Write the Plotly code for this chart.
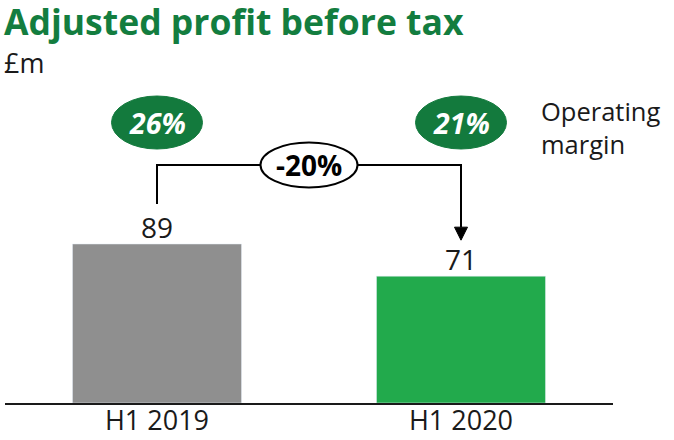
import plotly.graph_objects as go

# ---- data ----
categories = ["H1 2019", "H1 2020"]
profit = [89, 71]
op_margin = ["26%", "21%"]
change_label = "-20%"
bar_colors = ["#8f8f8f", "#22aa4c"]

# ---- geometry ----
W, H = 674, 440
ML, MR, MT, MB = 5, 61, 10, 37
PW, PH = W - ML - MR, H - MT - MB
YMAX = 220.0
PPU_Y = PH / YMAX          # pixels per value unit
PPU_X = PW / 2.0           # pixels per category unit (range -0.5..1.5)

def up(px):                # vertical pixel offset -> value units
    return px / PPU_Y

def ux(px):
    return px / PPU_X

def paper_x(px):
    return (px - ML) / PW

def paper_y(py):
    return (H - MB - py) / PH

FONT = "Open Sans"
DARK = "#1a1a1a"
TITLE_GREEN = "#137d3f"
ELL_GREEN = "#137a3d"

fig = go.Figure()
fig.add_trace(go.Bar(
    x=categories, y=profit, marker_color=bar_colors, width=0.556,
    hoverinfo="skip",
))

# value labels
for c, v in zip(categories, profit):
    fig.add_annotation(x=c, y=v + up(17), xref="x", yref="y", text=str(v),
                       showarrow=False, yanchor="middle",
                       font=dict(family=FONT, size=28, color=DARK))

# connector
y_h = profit[0] + up(79)
y_l = profit[0] + up(40)
y_tip = profit[1] + up(36)
head_h = up(13)
head_w = ux(6.5)
fig.add_shape(type="path", xref="x", yref="y",
              path=f"M 0,{y_l} L 0,{y_h} L 1,{y_h} L 1,{y_tip + head_h}",
              line=dict(color="black", width=2))
fig.add_shape(type="path", xref="x", yref="y",
              path=f"M {1 - head_w},{y_tip + head_h} L {1 + head_w},{y_tip + head_h} L 1,{y_tip} Z",
              fillcolor="black", line=dict(color="black", width=1))

# change ellipse
cx = 0.5
ew, eh = ux(97) / 2, up(45) / 2
fig.add_shape(type="circle", xref="x", yref="y",
              x0=cx - ew, x1=cx + ew, y0=y_h - eh, y1=y_h + eh,
              fillcolor="white", line=dict(color="black", width=2))
fig.add_annotation(x=cx, y=y_h, xref="x", yref="y", text=f"<b>{change_label}</b>",
                   showarrow=False, font=dict(family=FONT, size=28, color="black"))

# margin ellipses
y_m = profit[0] + up(121.5)
mw, mh = ux(91) / 2, up(53) / 2
for i, m in enumerate(op_margin):
    fig.add_shape(type="circle", xref="x", yref="y",
                  x0=i - mw, x1=i + mw, y0=y_m - mh, y1=y_m + mh,
                  fillcolor=ELL_GREEN, line=dict(color=ELL_GREEN, width=1))
    fig.add_annotation(x=i, y=y_m, xref="x", yref="y", text=f"<b><i>{m}</i></b>",
                       showarrow=False, font=dict(family=FONT, size=28.5, color="white"))

# texts
fig.add_annotation(x=paper_x(2), y=paper_y(21.5), xref="paper", yref="paper",
                   xanchor="left", yanchor="middle", showarrow=False,
                   text="<b>Adjusted profit before tax</b>",
                   font=dict(family=FONT, size=35.5, color=TITLE_GREEN))
fig.add_annotation(x=paper_x(2), y=paper_y(62.5), xref="paper", yref="paper",
                   xanchor="left", yanchor="middle", showarrow=False,
                   text="£m", font=dict(family=FONT, size=27, color=DARK))
fig.add_annotation(x=paper_x(539), y=paper_y(127), xref="paper", yref="paper",
                   xanchor="left", yanchor="middle", align="left", showarrow=False,
                   text="Operating<br>margin", font=dict(family=FONT, size=25.5, color=DARK))

fig.update_layout(
    width=W, height=H, margin=dict(l=ML, r=MR, t=MT, b=MB, autoexpand=False),
    paper_bgcolor="white", plot_bgcolor="white", showlegend=False,
    xaxis=dict(range=[-0.5, 1.5], showline=True, linecolor=DARK, linewidth=2,
               showgrid=False, zeroline=False, ticks="", automargin=False,
               ticklabelstandoff=-7,
               tickfont=dict(family=FONT, size=27, color=DARK), fixedrange=True),
    yaxis=dict(range=[0, YMAX], visible=False, showgrid=False, zeroline=False,
               automargin=False, fixedrange=True),
)
fig.write_html("out.html", config={"displayModeBar": False},
               post_script="document.body.style.margin='0';document.body.style.overflow='hidden';")
